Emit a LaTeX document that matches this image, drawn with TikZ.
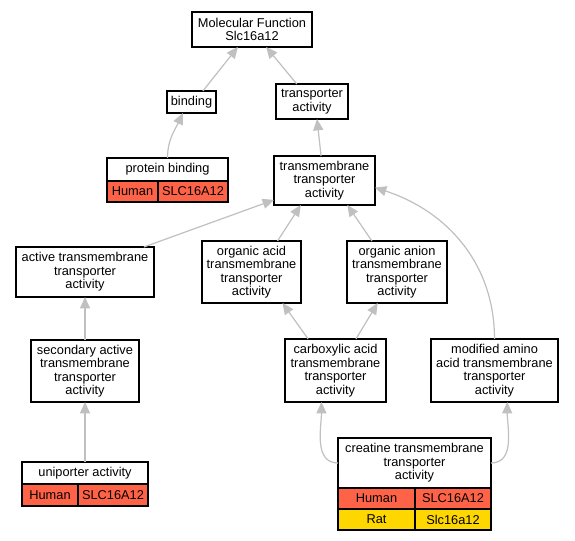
\documentclass[tikz,border=0pt]{standalone}
\usepackage{fontspec}
\setmainfont{Liberation Sans}
\usetikzlibrary{arrows.meta}
\definecolor{edgegray}{RGB}{192,192,192}
\definecolor{human}{RGB}{255,99,71}
\definecolor{rat}{RGB}{255,215,0}

\begin{document}
\begin{tikzpicture}[x=0.75pt,y=0.75pt,
    font=\fontsize{9.6}{10.1}\selectfont,
    sz/.style 2 args={minimum width=#1*0.75pt,minimum height=#2*0.75pt},
    term/.style={draw,line width=1pt,fill=white,align=center,inner sep=0pt,outer sep=0pt},
    cell/.style={term,anchor=north west},
    isa/.style={draw=edgegray,line width=0.9pt,-{Triangle[length=8.5pt,width=7.5pt]}}]
  \useasboundingbox[fill=white] (0,0) rectangle (575,-541);
  % terms
  \node[term,sz={120}{35}] (mf) at (252,-29.5) {Molecular Function\\Slc16a12};
  \node[term,sz={49}{22}] (bind) at (191.5,-102) {binding};
  \node[term,sz={72}{35}] (tact) at (312,-101.5) {transporter\\activity};
  \node[term,sz={121}{23}] (pb) at (167.5,-169.5) {protein binding};
  \node[cell,fill=human,sz={51}{21}] (pbh) at (pb.south west) {Human};
  \node[cell,fill=human,sz={70}{21}] (pbg) at (pbh.north east) {SLC16A12};
  \node[term,sz={101}{49}] (tmt) at (324.5,-180.5) {transmembrane\\transporter\\activity};
  \node[term,sz={138}{50}] (att) at (85,-272) {active transmembrane\\transporter\\activity};
  \node[term,sz={99}{62}] (oacid) at (251.5,-272) {organic acid\\transmembrane\\transporter\\activity};
  \node[term,sz={100}{62}] (oanion) at (397,-272) {organic anion\\transmembrane\\transporter\\activity};
  \node[term,sz={108}{62}] (sec) at (85,-371) {secondary active\\transmembrane\\transporter\\activity};
  \node[term,sz={101}{63}] (carb) at (335.5,-370.5) {carboxylic acid\\transmembrane\\transporter\\activity};
  \node[term,sz={127}{63}] (mod) at (494.5,-370.5) {modified amino\\acid transmembrane\\transporter\\activity};
  \node[term,sz={126}{22}] (uni) at (85,-473) {uniporter activity};
  \node[cell,fill=human,sz={56}{22}] (unih) at (uni.south west) {Human};
  \node[cell,fill=human,sz={70}{22}] (unig) at (unih.north east) {SLC16A12};
  \node[term,sz={153}{50}] (cre) at (414.5,-463) {creatine transmembrane\\transporter\\activity};
  \node[cell,fill=human,sz={77}{21}] (creh) at (cre.south west) {Human};
  \node[cell,fill=human,sz={76}{21}] (creg) at (creh.north east) {SLC16A12};
  \node[cell,fill=rat,sz={77}{21}] (crer) at (creh.south west) {Rat};
  \node[cell,fill=rat,sz={76}{21}] (crerg) at (crer.north east) {Slc16a12};
  % is_a edges
  \draw[isa] (bind.44) -- (mf.231);
  \draw[isa] (tact.131) -- (mf.309);
  \draw[isa] (pb.north) to[out=90,in=245] (bind.232);
  \draw[isa] (tmt.98) -- (tact.286);
  \draw[isa] (att.23) -- (tmt.201);
  \draw[isa] (oacid.50) -- (tmt.226);
  \draw[isa] (oanion.129) -- (tmt.313);
  \draw[isa] (mod.north) to[out=90,in=-18] (tmt.352);
  \draw[isa] (sec) -- (att);
  \draw[isa] (uni) -- (sec);
  \draw[isa] (carb.131) -- (oacid.315);
  \draw[isa] (carb.57) -- (oanion.238);
  \draw[isa] (cre.west) to[out=180,in=270] (carb.246);
  \draw[isa] (cre.east) to[out=0,in=270] (mod.292);
\end{tikzpicture}
\end{document}
